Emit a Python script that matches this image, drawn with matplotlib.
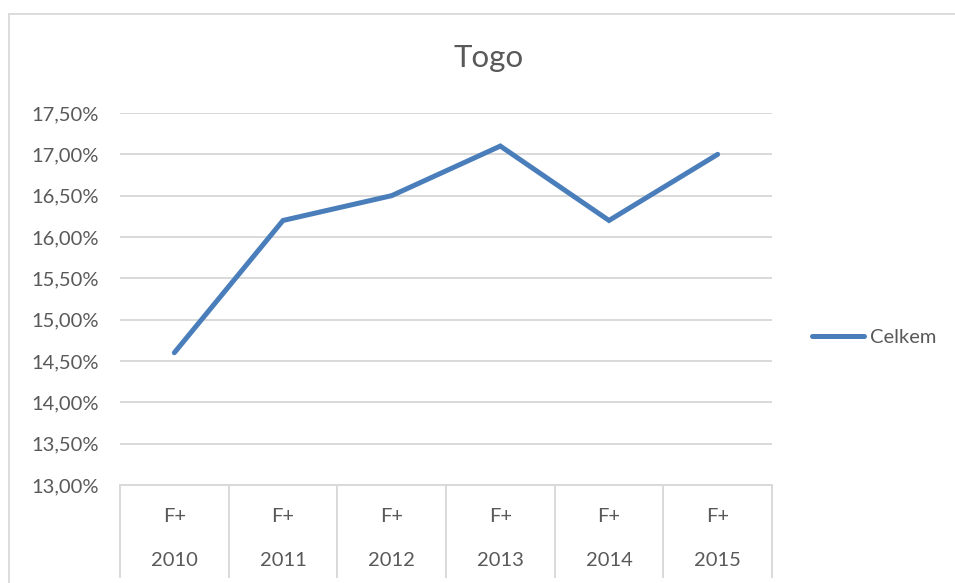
import matplotlib
matplotlib.use("Agg")
import matplotlib.pyplot as plt
from matplotlib.patches import Rectangle
from matplotlib.transforms import blended_transform_factory

# data
years = ["2010", "2011", "2012", "2013", "2014", "2015"]
groups = ["F+", "F+", "F+", "F+", "F+", "F+"]
celkem = [14.6, 16.2, 16.5, 17.1, 16.2, 17.0]
y_ticks = [13.0, 13.5, 14.0, 14.5, 15.0, 15.5, 16.0, 16.5, 17.0, 17.5]

plt.rcParams['font.family'] = ['Lato', 'DejaVu Sans']
txt_col = "#595959"
grid_col = "#d9d9d9"
fs = 14.5

fig = plt.figure(figsize=(9.55, 5.83), dpi=100)
ax = fig.add_axes([120/955, 1-485/583, (772-120)/955, (485-113)/583])

x = list(range(len(years)))
line, = ax.plot(x, celkem, color="#4a7ebb", lw=3.6, solid_capstyle="round",
                solid_joinstyle="miter", label="Celkem", zorder=3)

ax.set_xlim(-0.5, len(years) - 0.5)
ax.set_ylim(y_ticks[0], y_ticks[-1])
ax.set_yticks(y_ticks)
ax.set_yticklabels([("%.2f%%" % v).replace(".", ",") for v in y_ticks],
                   color=txt_col, fontsize=fs)
ax.tick_params(axis="y", length=0, pad=15)
ax.set_xticks([])
for s in ax.spines.values():
    s.set_visible(False)
ax.grid(axis="y", color=grid_col, lw=1.4)
ax.set_axisbelow(True)

# multi-level category axis
tr = blended_transform_factory(ax.transData, ax.transAxes)
ax.plot([-0.5, len(years) - 0.5], [0, 0], color=grid_col, lw=1.4,
        transform=tr, clip_on=False)
for b in range(len(years) + 1):
    ax.plot([b - 0.5, b - 0.5], [0, -0.247], color=grid_col, lw=1.4,
            transform=tr, clip_on=False)
for i in x:
    ax.text(i, -31/372, groups[i], transform=tr, ha="center", va="center",
            color=txt_col, fontsize=fs)
    ax.text(i, -76/372, years[i], transform=tr, ha="center", va="center",
            color=txt_col, fontsize=fs)

fig.text(489/955, 1-58/583, "Togo", ha="center", va="center",
         color=txt_col, fontsize=22.5)

fig.legend(handles=[line], loc="center left",
           bbox_to_anchor=(804/955, 1-337/583), frameon=False,
           handlelength=2.6, handletextpad=0.3, labelcolor=txt_col,
           fontsize=fs, borderaxespad=0)

fig.patches.append(Rectangle((9/955, -0.1), 1.5, (583-14)/583 + 0.1,
                             transform=fig.transFigure, fill=False,
                             edgecolor=grid_col, lw=1.3))

fig.savefig("out.png", dpi=100)
